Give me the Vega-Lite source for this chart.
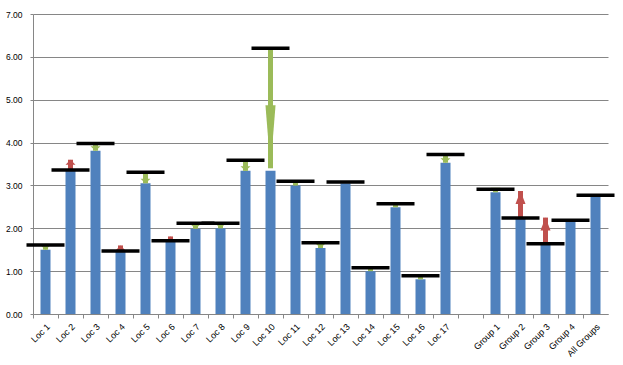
{
  "$schema": "https://vega.github.io/schema/vega-lite/v6.json",
  "autosize": "none",
  "width": 575,
  "height": 300,
  "padding": {"left": 33, "top": 14, "right": 15, "bottom": 51},
  "background": "#ffffff",
  "config": {
    "view": {"stroke": null},
    "font": "Liberation Sans",
    "axis": {"labelFont": "Liberation Sans", "labelColor": "#000000", "domainColor": "#868686", "tickColor": "#868686", "gridColor": "#868686", "title": null}
  },
  "data": {
    "values": [
      {"cat": "Loc 1", "value": 1.50, "target": 1.61, "arrow_end": 1.50, "dir": "down"},
      {"cat": "Loc 2", "value": 3.35, "target": 3.36, "arrow_end": 3.60, "dir": "up"},
      {"cat": "Loc 3", "value": 3.81, "target": 3.98, "arrow_end": 3.81, "dir": "down"},
      {"cat": "Loc 4", "value": 1.46, "target": 1.47, "arrow_end": 1.60, "dir": "up"},
      {"cat": "Loc 5", "value": 3.05, "target": 3.31, "arrow_end": 3.05, "dir": "down"},
      {"cat": "Loc 6", "value": 1.70, "target": 1.71, "arrow_end": 1.81, "dir": "up"},
      {"cat": "Loc 7", "value": 1.99, "target": 2.12, "arrow_end": 1.99, "dir": "down"},
      {"cat": "Loc 8", "value": 2.00, "target": 2.12, "arrow_end": 2.00, "dir": "down"},
      {"cat": "Loc 9", "value": 3.34, "target": 3.59, "arrow_end": 3.34, "dir": "down"},
      {"cat": "Loc 10", "value": 3.34, "target": 6.20, "arrow_end": 3.40, "dir": "down"},
      {"cat": "Loc 11", "value": 3.00, "target": 3.10, "arrow_end": 3.00, "dir": "down"},
      {"cat": "Loc 12", "value": 1.54, "target": 1.66, "arrow_end": 1.54, "dir": "down"},
      {"cat": "Loc 13", "value": 3.05, "target": 3.08, "arrow_end": null, "dir": "none"},
      {"cat": "Loc 14", "value": 1.00, "target": 1.08, "arrow_end": 1.00, "dir": "down"},
      {"cat": "Loc 15", "value": 2.49, "target": 2.57, "arrow_end": 2.49, "dir": "down"},
      {"cat": "Loc 16", "value": 0.81, "target": 0.89, "arrow_end": 0.81, "dir": "down"},
      {"cat": "Loc 17", "value": 3.53, "target": 3.72, "arrow_end": 3.53, "dir": "down"},
      {"cat": "Group 1", "value": 2.84, "target": 2.91, "arrow_end": 2.84, "dir": "down"},
      {"cat": "Group 2", "value": 2.23, "target": 2.24, "arrow_end": 2.87, "dir": "up"},
      {"cat": "Group 3", "value": 1.62, "target": 1.64, "arrow_end": 2.25, "dir": "up"},
      {"cat": "Group 4", "value": 2.17, "target": 2.19, "arrow_end": null, "dir": "none"},
      {"cat": "All Groups", "value": 2.75, "target": 2.77, "arrow_end": null, "dir": "none"}
    ]
  },
  "encoding": {
    "x": {
      "field": "cat", "type": "nominal", "sort": null,
      "scale": {"domain": ["Loc 1","Loc 2","Loc 3","Loc 4","Loc 5","Loc 6","Loc 7","Loc 8","Loc 9","Loc 10","Loc 11","Loc 12","Loc 13","Loc 14","Loc 15","Loc 16","Loc 17"," ","Group 1","Group 2","Group 3","Group 4","All Groups"], "paddingInner": 0, "paddingOuter": 0},
      "axis": {"labelAngle": -45, "labelFontSize": 9, "labelColor": "#000000", "tickSize": 4, "bandPosition": 0, "labelPadding": 4, "domainColor": "#868686"}
    }
  },
  "layer": [
    {
      "mark": {"type": "bar", "color": "#4F81BD", "width": {"band": 0.4}},
      "encoding": {
        "y": {"field": "value", "type": "quantitative", "scale": {"domain": [0, 7], "nice": false},
          "axis": {"values": [0,1,2,3,4,5,6,7], "format": ".2f", "labelFontSize": 8.5, "tickSize": 3, "labelPadding": 8, "grid": true, "gridOpacity": 1}}
      }
    },
    {
      "transform": [{"filter": "datum.dir != 'none'"}],
      "mark": {"type": "rule", "strokeWidth": 5},
      "encoding": {
        "y": {"field": "target", "type": "quantitative"},
        "y2": {"field": "arrow_end"},
        "color": {"field": "dir", "type": "nominal", "scale": {"domain": ["down", "up"], "range": ["#9BBB59", "#C0504D"]}, "legend": null}
      }
    },
    {
      "transform": [{"filter": "datum.dir == 'down' && datum.target - datum.arrow_end < 1"}],
      "mark": {"type": "point", "filled": true, "opacity": 1, "color": "#9BBB59", "shape": "M-0.5,-0.45L0.5,-0.45L0,0Z", "size": 400, "strokeWidth": 0},
      "encoding": {"y": {"field": "arrow_end", "type": "quantitative"}}
    },
    {
      "transform": [{"filter": "datum.dir == 'down' && datum.target - datum.arrow_end >= 1"}],
      "mark": {"type": "point", "filled": true, "opacity": 1, "color": "#9BBB59", "shape": "M-0.08,-1L0.08,-1L0,0Z", "size": 15876, "strokeWidth": 0},
      "encoding": {"y": {"field": "arrow_end", "type": "quantitative"}}
    },
    {
      "transform": [{"filter": "datum.dir == 'up' && datum.arrow_end - datum.target < 0.4"}],
      "mark": {"type": "point", "filled": true, "opacity": 1, "color": "#C0504D", "shape": "M-0.5,0.5L0.5,0.5L0,0Z", "size": 400, "strokeWidth": 0},
      "encoding": {"y": {"field": "arrow_end", "type": "quantitative"}}
    },
    {
      "transform": [{"filter": "datum.dir == 'up' && datum.arrow_end - datum.target >= 0.4"}],
      "mark": {"type": "point", "filled": true, "opacity": 1, "color": "#C0504D", "shape": "M-0.385,1L0.385,1L0,0Z", "size": 676, "strokeWidth": 0},
      "encoding": {"y": {"field": "arrow_end", "type": "quantitative"}}
    },
    {
      "mark": {"type": "tick", "color": "#000000", "thickness": 3.5, "size": 38, "opacity": 1},
      "encoding": {"y": {"field": "target", "type": "quantitative"}}
    }
  ]
}
